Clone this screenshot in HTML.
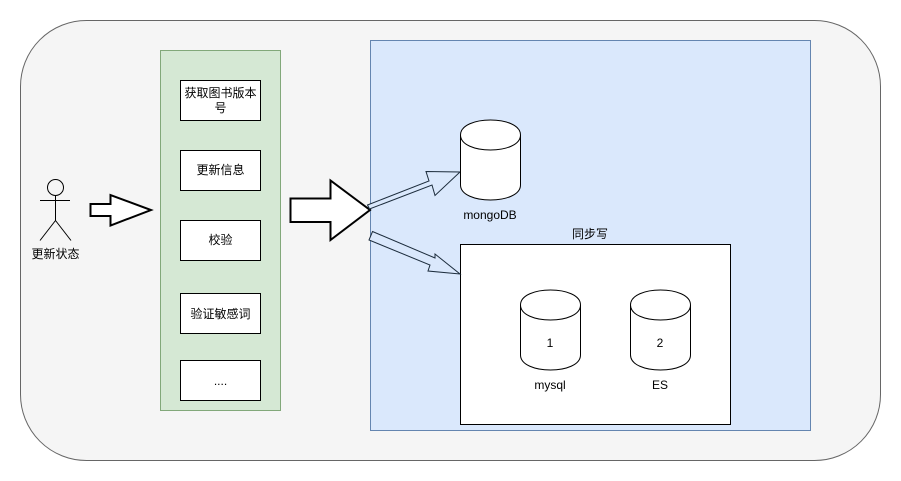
<!DOCTYPE html>
<html>
<head>
<meta charset="utf-8">
<style>
html,body{margin:0;padding:0;background:#fff;width:901px;height:481px;overflow:hidden}
svg{display:block;filter:blur(0.35px)}
text{font-family:"Liberation Sans","Noto Sans CJK SC",sans-serif;font-size:12px;fill:#000;text-anchor:middle}
</style>
</head>
<body>
<svg width="901" height="481" viewBox="0 0 901 481" xmlns="http://www.w3.org/2000/svg">
<rect x="20.5" y="20.5" width="860" height="440" rx="66" ry="66" fill="#f5f5f5" stroke="#666"/>
<rect x="160.5" y="50.5" width="120" height="360" fill="#d5e8d4" stroke="#82a87a"/>
<rect x="370.5" y="40.5" width="440" height="390" fill="#dae8fc" stroke="#6485b0"/>

<g fill="#fff" stroke="#000">
<rect x="180.5" y="80.5" width="80" height="40"/>
<rect x="180.5" y="150.5" width="80" height="40"/>
<rect x="180.5" y="220.5" width="80" height="40"/>
<rect x="180.5" y="293.5" width="80" height="40"/>
<rect x="180.5" y="360.5" width="80" height="40"/>
<rect x="460.5" y="244.5" width="270" height="180"/>
</g>
<text x="220.5" y="97">获取图书版本</text>
<text x="220.5" y="112">号</text>
<text x="220.5" y="174">更新信息</text>
<text x="220.5" y="244">校验</text>
<text x="220.5" y="318">验证敏感词</text>
<text x="220.5" y="385">....</text>

<!-- actor -->
<g fill="none" stroke="#000">
<circle cx="55.5" cy="187.5" r="8" fill="#f5f5f5"/>
<path d="M55.5 195.5V220.5M40 200.5H70M55.5 220.5L40 240.5M55.5 220.5L71 240.5"/>
</g>
<text x="55.5" y="258">更新状态</text>

<!-- block arrows -->
<path d="M90.5 204L110.5 204L110.5 195L151 210L110.5 225.5L110.5 216L90.5 216Z" fill="#fff" stroke="#000" stroke-width="2"/>
<path d="M290.5 198.5L330.5 198.5L330.5 180.5L370 210L330.5 240L330.5 222L290.5 222Z" fill="#fff" stroke="#000" stroke-width="2"/>

<path d="M367.5 205L429 181L426 171.500L460 172L435 195.500L432 185L369.500 209Z" fill="#dae8fc" stroke="#1c2c3c"/>
<path d="M372.500 231.500L435 258L435 254L460 274L428 271L430 265L369 240Z" fill="#dae8fc" stroke="#1c2c3c"/>

<!-- cylinders -->
<g fill="#fff" stroke="#000">
<path d="M460.500 135C460.500 115 520.500 115 520.500 135V185C520.500 205 460.500 205 460.500 185Z"/>
<path d="M460.500 135C460.500 155 520.500 155 520.500 135" fill="none"/>
<path d="M520.500 305C520.500 285 580.500 285 580.500 305V355C580.500 375 520.500 375 520.500 355Z"/>
<path d="M520.500 305C520.500 325 580.500 325 580.500 305" fill="none"/>
<path d="M630.500 305C630.500 285 690.500 285 690.500 305V355C690.500 375 630.500 375 630.500 355Z"/>
<path d="M630.500 305C630.500 325 690.500 325 690.500 305" fill="none"/>
</g>
<text x="490" y="219">mongoDB</text>
<text x="590" y="238">同步写</text>
<text x="550" y="347">1</text>
<text x="660" y="347">2</text>
<text x="550" y="389">mysql</text>
<text x="660" y="389">ES</text>
</svg>
</body>
</html>
